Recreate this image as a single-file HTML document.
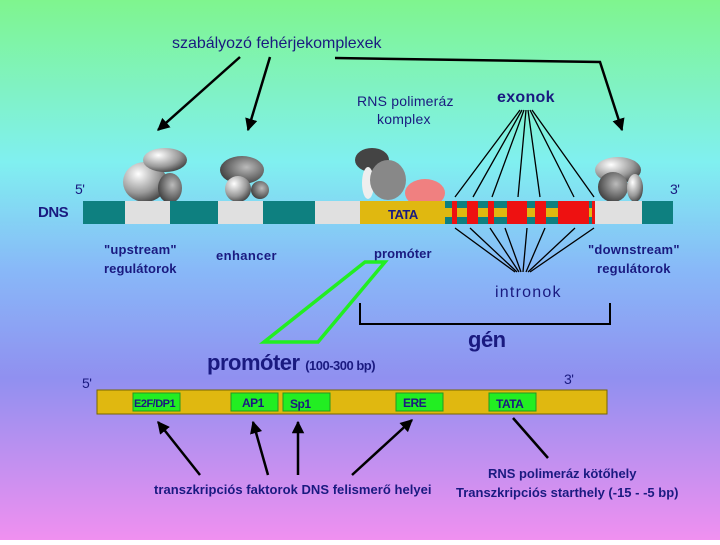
<!DOCTYPE html>
<html><head><meta charset="utf-8"><style>
body{margin:0}
svg text{font-family:"Liberation Sans",sans-serif;letter-spacing:-0.5px}
</style></head><body>
<svg width="720" height="540" viewBox="0 0 720 540" xmlns="http://www.w3.org/2000/svg">
<defs>
<linearGradient id="bg" x1="0" y1="0" x2="0" y2="1">
<stop offset="0" stop-color="#7ff58e"/>
<stop offset="0.3" stop-color="#80f0f0"/>
<stop offset="0.5" stop-color="#88b8f8"/>
<stop offset="0.7" stop-color="#9090f0"/>
<stop offset="1" stop-color="#f090f0"/>
</linearGradient>
<radialGradient id="g1" cx="0.35" cy="0.3" r="0.8"><stop offset="0" stop-color="#fff"/><stop offset="0.6" stop-color="#999"/><stop offset="1" stop-color="#333"/></radialGradient>
<radialGradient id="g2" cx="0.6" cy="0.4" r="0.8"><stop offset="0" stop-color="#bbb"/><stop offset="1" stop-color="#222"/></radialGradient>
<marker id="ar" viewBox="0 0 10 10" refX="9" refY="5" markerWidth="5" markerHeight="5" orient="auto"><path d="M0,0L10,5L0,10z" fill="#000"/></marker>
</defs>
<rect width="720" height="540" fill="url(#bg)"/>
<text x="172" y="48" font-size="16" fill="#1a1a80" textLength="209">szabályozó fehérjekomplexek</text>
<g stroke="#000" stroke-width="2.5" fill="none" marker-end="url(#ar)">
<line x1="240" y1="57" x2="158" y2="130"/>
<line x1="270" y1="57" x2="248" y2="130"/>
<polyline points="335,58 600,62 622,130"/>
</g>
<text x="357" y="106" font-size="14" fill="#1a1a80" textLength="96">RNS polimeráz</text>
<text x="377" y="124" font-size="14" fill="#1a1a80" textLength="53">komplex</text>
<text x="497" y="102" font-size="16" font-weight="bold" fill="#1a1a80" textLength="57">exonok</text>
<g stroke="#000" stroke-width="1.3">
<line x1="520" y1="110" x2="455" y2="197"/><line x1="522" y1="110" x2="473" y2="197"/>
<line x1="524" y1="110" x2="492" y2="197"/><line x1="526" y1="110" x2="518" y2="197"/>
<line x1="528" y1="110" x2="540" y2="197"/><line x1="530" y1="110" x2="574" y2="197"/>
<line x1="532" y1="110" x2="594" y2="197"/>
<line x1="455" y1="228" x2="515" y2="272"/><line x1="470" y1="228" x2="517" y2="272"/>
<line x1="490" y1="228" x2="519" y2="272"/><line x1="505" y1="228" x2="521" y2="272"/>
<line x1="527" y1="228" x2="523" y2="272"/><line x1="545" y1="228" x2="526" y2="272"/>
<line x1="575" y1="228" x2="528" y2="272"/><line x1="594" y1="228" x2="530" y2="272"/>
</g>
<ellipse cx="145" cy="182" rx="22" ry="20" fill="url(#g1)"/>
<ellipse cx="165" cy="160" rx="22" ry="12" fill="url(#g1)"/>
<ellipse cx="170" cy="188" rx="12" ry="15" fill="url(#g2)"/>
<ellipse cx="242" cy="170" rx="22" ry="14" fill="url(#g2)"/>
<circle cx="238" cy="189" r="13" fill="url(#g1)"/>
<circle cx="260" cy="190" r="9" fill="url(#g2)"/>
<ellipse cx="372" cy="160" rx="17" ry="12" fill="#444"/>
<ellipse cx="368" cy="183" rx="6" ry="16" fill="#eee"/>
<ellipse cx="388" cy="180" rx="18" ry="20" fill="#888"/>
<ellipse cx="425" cy="193" rx="20" ry="14" fill="#f08080"/>
<ellipse cx="618" cy="170" rx="23" ry="13" fill="url(#g1)"/>
<circle cx="613" cy="187" r="15" fill="url(#g2)"/>
<ellipse cx="635" cy="188" rx="8" ry="14" fill="url(#g1)"/>
<text x="75" y="194" font-size="14" fill="#1a1a80">5'</text>
<text x="670" y="194" font-size="14" fill="#1a1a80">3'</text>
<text x="38" y="217" font-size="15" font-weight="bold" fill="#1a1a80">DNS</text>
<rect x="83" y="201" width="590" height="23" fill="#0e8080"/>
<rect x="125" y="201" width="45" height="23" fill="#e0e0e0"/>
<rect x="218" y="201" width="45" height="23" fill="#e0e0e0"/>
<rect x="315" y="201" width="45" height="23" fill="#e0e0e0"/>
<rect x="360" y="201" width="85" height="23" fill="#e0b810"/>
<text x="388" y="219" font-size="13" font-weight="bold" fill="#1a1a80">TATA</text>
<rect x="445" y="208" width="150" height="9" fill="#e0b810"/>
<g fill="#ee1111"><rect x="452" y="201" width="5" height="23"/><rect x="467" y="201" width="11" height="23"/><rect x="488" y="201" width="6" height="23"/><rect x="507" y="201" width="20" height="23"/><rect x="535" y="201" width="11" height="23"/><rect x="558" y="201" width="31" height="23"/><rect x="592" y="201" width="3" height="23"/></g>
<rect x="595" y="201" width="47" height="23" fill="#e0e0e0"/>
<g font-size="13" fill="#1a1a80" font-weight="bold">
<text x="104" y="254" textLength="72">"upstream"</text><text x="104" y="273" textLength="72">regulátorok</text>
<text x="216" y="260" textLength="60">enhancer</text>
<text x="374" y="258" textLength="57">promóter</text>
<text x="588" y="254" textLength="91">"downstream"</text><text x="597" y="273" textLength="73">regulátorok</text>
</g>
<text x="495" y="297" font-size="16" fill="#1a1a80" textLength="65">intronok</text>
<polyline points="360,303 360,324 610,324 610,303" fill="none" stroke="#000" stroke-width="2"/>
<text x="468" y="347" font-size="22" font-weight="bold" fill="#1a1a80">gén</text>
<polygon points="365,262 385,262 318,342 264,342" fill="none" stroke="#22ee22" stroke-width="3.5"/>
<text x="207" y="370" font-size="22" font-weight="bold" fill="#1a1a80">promóter <tspan font-size="13">(100-300 bp)</tspan></text>
<text x="82" y="388" font-size="14" fill="#1a1a80">5'</text>
<text x="564" y="384" font-size="14" fill="#1a1a80">3'</text>
<rect x="97" y="390" width="510" height="24" fill="#e0b810" stroke="#776600"/>
<g fill="#22ee22" stroke="#229922">
<rect x="133" y="393" width="47" height="18"/><rect x="231" y="393" width="47" height="18"/>
<rect x="283" y="393" width="47" height="18"/><rect x="396" y="393" width="47" height="18"/>
<rect x="489" y="393" width="47" height="18"/></g>
<g font-size="12" font-weight="bold" fill="#1a1a80">
<text x="134" y="407" font-size="11">E2F/DP1</text><text x="242" y="407">AP1</text><text x="290" y="408">Sp1</text>
<text x="403" y="407">ERE</text><text x="496" y="408">TATA</text></g>
<g stroke="#000" stroke-width="2.5" fill="none" marker-end="url(#ar)">
<line x1="200" y1="475" x2="158" y2="422"/><line x1="268" y1="475" x2="253" y2="422"/>
<line x1="298" y1="475" x2="298" y2="422"/><line x1="352" y1="475" x2="412" y2="420"/>
</g>
<line x1="513" y1="418" x2="548" y2="458" stroke="#000" stroke-width="2.5"/>
<g font-size="13" font-weight="bold" fill="#1a1a80">
<text x="154" y="494" textLength="277">transzkripciós faktorok DNS felismerő helyei</text>
<text x="488" y="478" textLength="148">RNS polimeráz kötőhely</text>
<text x="456" y="497" textLength="222">Transzkripciós starthely (-15 - -5 bp)</text></g>
</svg>
</body></html>
